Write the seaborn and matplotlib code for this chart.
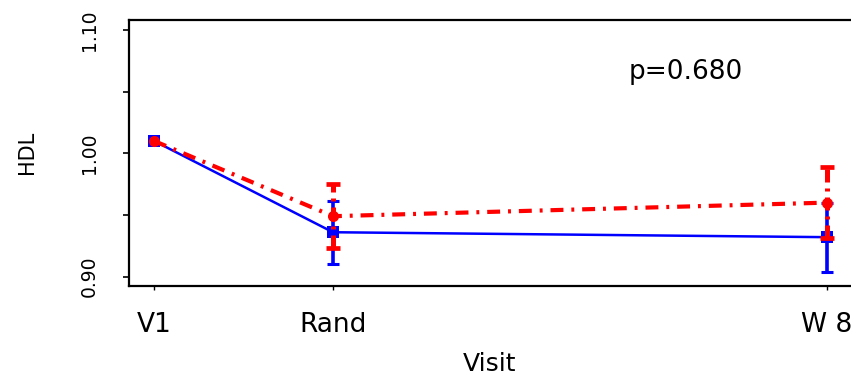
import numpy as np
import pandas as pd
import matplotlib
matplotlib.use("Agg")
import matplotlib.pyplot as plt
import seaborn as sns

# ---- data ----
visits = ["V1", "Rand", "W 8"]
visit_week = [-2.9, 0.0, 8.0]
blue_mean = [1.010, 0.936, 0.932]
blue_se = [0.0, 0.0255, 0.028]
red_mean = [1.010, 0.949, 0.960]
red_se = [0.0, 0.026, 0.0285]
y_ticks = [0.90, 0.95, 1.00, 1.05, 1.10]
y_ticklabels = ["0.90", "", "1.00", "", "1.10"]
p_text = "p=0.680"
x_label = "Visit"
y_label = "HDL"

blue_df = pd.DataFrame({"week": visit_week, "HDL": blue_mean, "se": blue_se})
red_df = pd.DataFrame({"week": visit_week, "HDL": red_mean, "se": red_se})

sns.set_style("white")
plt.rcParams["font.family"] = ["DejaVu Sans"]
plt.rcParams["text.color"] = "black"
plt.rcParams["axes.labelcolor"] = "black"

W, H = 851, 379
fig = plt.figure(figsize=(W / 100, H / 100), dpi=100)
ax = fig.add_axes([129 / W, 1 - 286 / H, 760 / W, 266 / H])

BLUE = "#0000ff"
RED = "#ff0000"
red_ls = (0, (3.1, 1.9, 0.7, 1.9))

# blue series
sns.lineplot(data=blue_df, x="week", y="HDL", color=BLUE, linewidth=1.8,
             marker="s", markersize=8.5, markeredgewidth=0, ax=ax, zorder=3)
eb_b = ax.errorbar(blue_df["week"][1:], blue_df["HDL"][1:], yerr=blue_df["se"][1:],
                   fmt="none", ecolor=BLUE, elinewidth=2.6, capsize=4.5,
                   capthick=2.2, zorder=3.5)

# red series
sns.lineplot(data=red_df, x="week", y="HDL", color=RED, linewidth=3.0,
             linestyle=red_ls, marker="o", markersize=8, markeredgewidth=0,
             ax=ax, zorder=4)
eb_r = ax.errorbar(red_df["week"][1:], red_df["HDL"][1:], yerr=red_df["se"][1:],
                   fmt="none", ecolor=RED, elinewidth=3.6, capsize=5,
                   capthick=3.4, zorder=4.5)
for lc in eb_r[2]:
    lc.set_linestyle((0, (2.6, 1.2, 0.6, 1.2)))

ax.set_xlim(-3.307, 8.397 + (760 - 722) / 61.69)
ax.set_ylim(0.8924, 1.1081)

ax.set_yticks(y_ticks)
ax.set_yticklabels(y_ticklabels, rotation=90, va="center", fontsize=13.5)
ax.set_xticks(visit_week)
ax.set_xticklabels(visits, fontsize=19)

ax.tick_params(axis="y", direction="out", length=4.5, width=1.2, pad=17,
               left=True, colors="black")
ax.tick_params(axis="x", direction="out", length=3, width=1.0, pad=16,
               bottom=True, colors="black")

ax.set_xlabel(x_label, fontsize=18, color="black")
ax.set_ylabel(y_label, fontsize=15, color="black")
ax.xaxis.set_label_coords((490 - 129) / 760, -(352 - 286) / 266)
ax.yaxis.set_label_coords(-(129 - 37) / 760, (286 - 152) / 266)

for s in ["left", "top", "bottom"]:
    ax.spines[s].set_visible(True)
    ax.spines[s].set_color("black")
    ax.spines[s].set_linewidth(1.6)
ax.spines["right"].set_visible(False)

ax.text(5.72, 1.066, p_text, fontsize=19, ha="center", va="center", color="black")

fig.savefig("out.png", dpi=100)
